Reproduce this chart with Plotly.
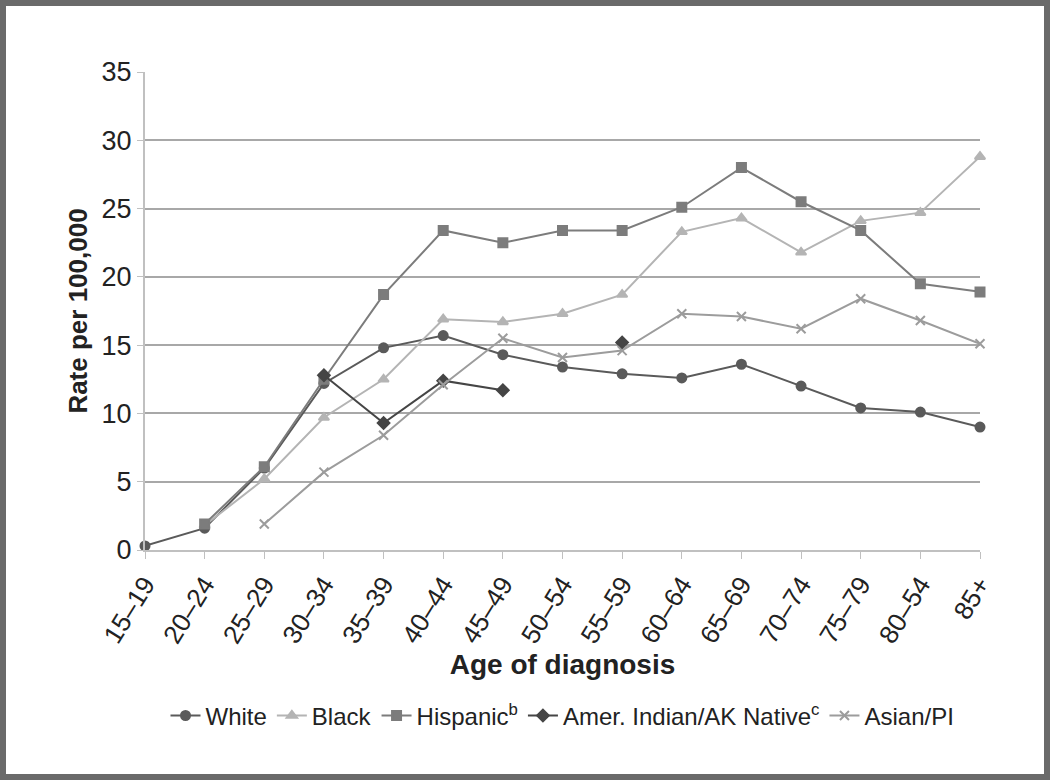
import plotly.graph_objects as go

ages = ["15–19", "20–24", "25–29", "30–34", "35–39", "40–44", "45–49", "50–54",
        "55–59", "60–64", "65–69", "70–74", "75–79", "80–54", "85+"]

white = [0.3, 1.6, 6.0, 12.2, 14.8, 15.7, 14.3, 13.4, 12.9, 12.6, 13.6, 12.0, 10.4, 10.1, 9.0]
black = [None, 1.8, 5.2, 9.7, 12.5, 16.9, 16.7, 17.3, 18.7, 23.3, 24.3, 21.8, 24.1, 24.7, 28.8]
hispanic = [None, 1.9, 6.1, 12.5, 18.7, 23.4, 22.5, 23.4, 23.4, 25.1, 28.0, 25.5, 23.4, 19.5, 18.9]
amer_indian = [None, None, None, 12.8, 9.3, 12.4, 11.7, None, 15.2, None, None, None, None, None, None]
asian_pi = [None, None, 1.9, 5.7, 8.4, 12.1, 15.5, 14.1, 14.6, 17.3, 17.1, 16.2, 18.4, 16.8, 15.1]

series = [
    ("White", white, "#5a5a5a", "circle", 9),
    ("Black", black, "#b4b4b4", "triangle-up", 9),
    ("Hispanic<sup>b</sup>", hispanic, "#7c7c7c", "square", 9),
    ("Amer. Indian/AK Native<sup>c</sup>", amer_indian, "#454545", "diamond", 9),
    ("Asian/PI", asian_pi, "#9c9c9c", "x-thin", 9),
]

fig = go.Figure()
for name, vals, color, symbol, size in series:
    fig.add_trace(go.Scatter(
        x=ages, y=vals, name=name, mode="lines+markers",
        line=dict(color=color, width=2),
        marker=dict(symbol=symbol, size=size, color=color,
                    line=dict(color=color, width=2)),
        connectgaps=False, cliponaxis=False,
    ))

# outer frame around the whole picture (paper coords computed from margins)
L, R, T, B = 145, 70, 72, 230
pw, ph = 1050 - L - R, 780 - T - B
fig.add_shape(type="rect", xref="paper", yref="paper",
              x0=-L / pw, x1=(1050 - L) / pw, y0=-B / ph, y1=1 + T / ph,
              line=dict(color="#6a6a6a", width=12), layer="above")

fig.update_layout(
    width=1050, height=780,
    margin=dict(l=L, r=R, t=T, b=B),
    paper_bgcolor="white", plot_bgcolor="white",
    font=dict(family="Liberation Sans, Arial, sans-serif", color="#222"),
    showlegend=True,
    legend=dict(orientation="h", x=0.5, xanchor="center", y=-0.30, yanchor="top",
                font=dict(size=24, color="#222"), itemwidth=30, tracegroupgap=0),
    xaxis=dict(
        type="category", range=[0, 14], showgrid=False,
        showline=True, linecolor="#c0c0c0", linewidth=2,
        ticks="outside", ticklen=7, tickcolor="#c0c0c0", tickwidth=1,
        tickangle=-58, tickfont=dict(size=26, color="#222"),
        title=dict(text="<b>Age of diagnosis</b>", font=dict(size=28, color="#222"), standoff=6),
    ),
    yaxis=dict(
        range=[0, 35], dtick=5, showgrid=True, gridcolor="#a8a8a8", gridwidth=2,
        zeroline=False, showline=True, linecolor="#c0c0c0", linewidth=2,
        ticks="outside", ticklen=6, tickcolor="#c0c0c0",
        tickfont=dict(size=27, color="#222"),
        title=dict(text="<b>Rate per 100,000</b>", font=dict(size=26, color="#222"), standoff=6),
    ),
)

fig.write_html("out.html", config={"displayModeBar": False},
               post_script="document.body.style.margin='0px';"
               "document.body.style.overflow='hidden';")
